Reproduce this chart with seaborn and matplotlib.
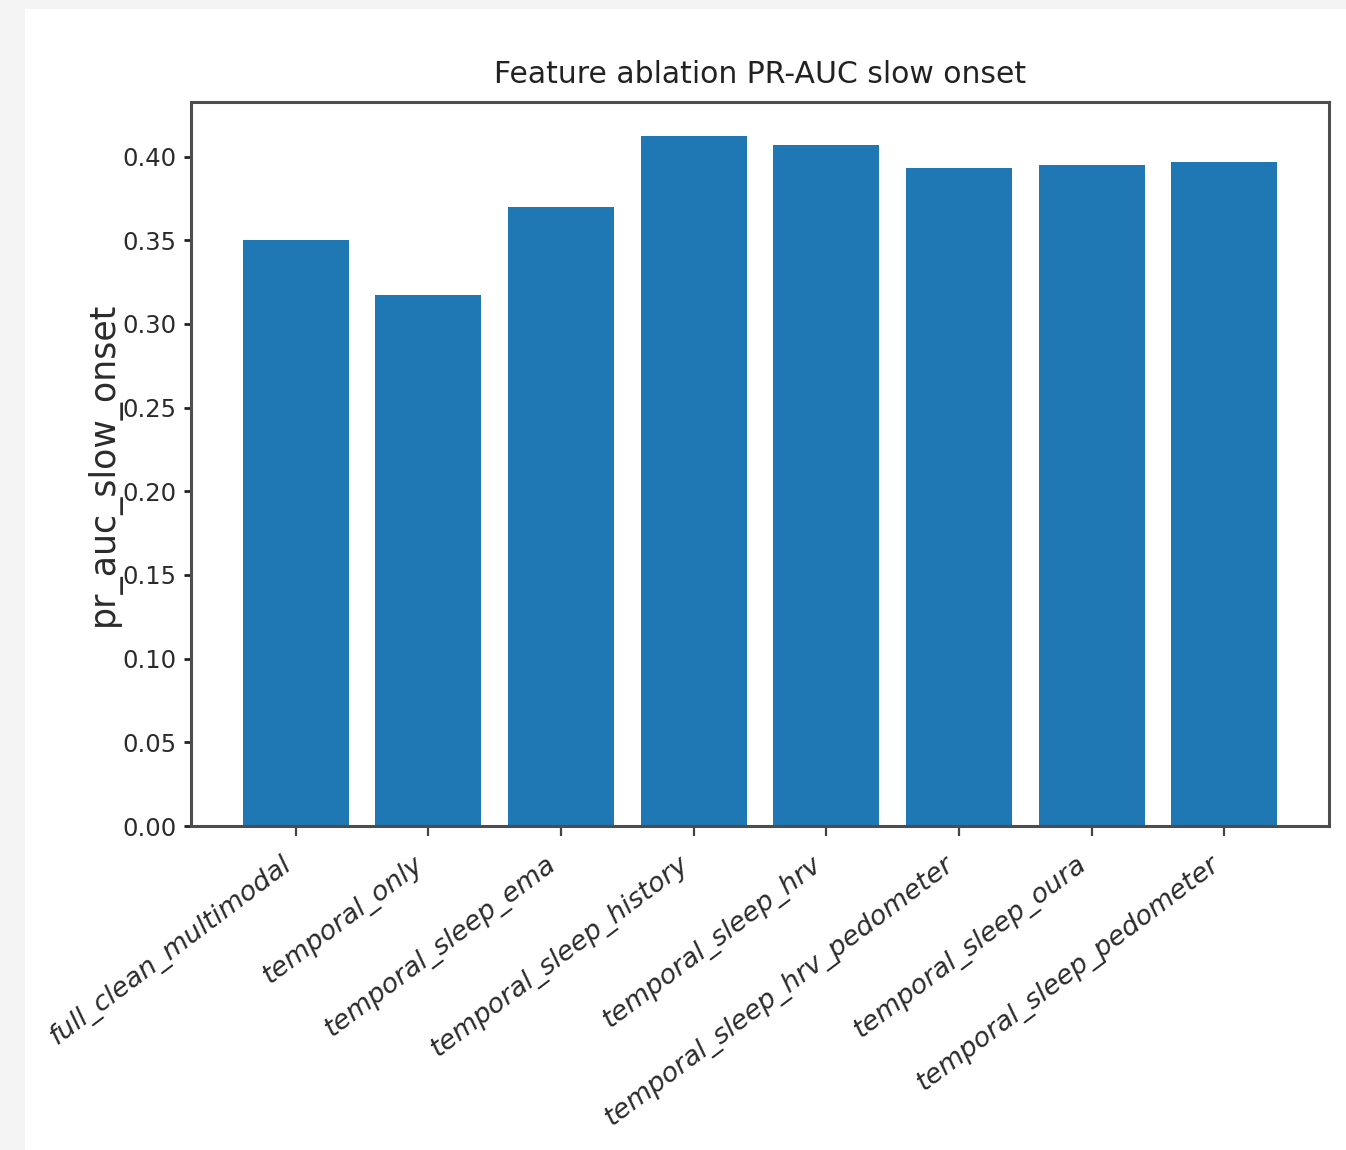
import matplotlib
matplotlib.use("Agg")
import matplotlib.pyplot as plt
from matplotlib.patches import Rectangle
from matplotlib.ticker import FormatStrFormatter
import pandas as pd
import seaborn as sns

# Feature-set configurations and their PR-AUC for slow onset
configs = [
    "full_clean_multimodal",
    "temporal_only",
    "temporal_sleep_ema",
    "temporal_sleep_history",
    "temporal_sleep_hrv",
    "temporal_sleep_hrv_pedometer",
    "temporal_sleep_oura",
    "temporal_sleep_pedometer",
]
pr_auc_slow_onset = [0.350, 0.317, 0.370, 0.412, 0.407, 0.393, 0.395, 0.397]
y_ticks = [0.00, 0.05, 0.10, 0.15, 0.20, 0.25, 0.30, 0.35, 0.40]

chart_title = "Feature ablation PR-AUC slow onset"
y_label = "pr_auc_slow_onset"

df = pd.DataFrame({"config": configs, "pr_auc_slow_onset": pr_auc_slow_onset})

sns.set_style("ticks")
plt.rcParams["font.family"] = ["DejaVu Sans"]

W, H = 1346, 1150
fig = plt.figure(figsize=(W / 100, H / 100), dpi=100, facecolor="#f4f4f4")
fig.patches.append(
    Rectangle((25 / W, 0), 1 - 25 / W, 1 - 9 / H, transform=fig.transFigure,
              facecolor="white", edgecolor="none", zorder=-1)
)

ax = fig.add_axes([191 / W, 1 - 826 / H, (1329 - 191) / W, (826 - 102) / H])
ax.set_facecolor("white")

sns.barplot(data=df, x="config", y="pr_auc_slow_onset", color="#1f77b4",
            saturation=1, width=0.8, linewidth=0, ax=ax)

n = len(configs)
pad = 0.05 * (n - 1 + 0.8)
ax.set_xlim(-0.4 - pad, n - 1 + 0.4 + pad)
ax.set_ylim(0, max(pr_auc_slow_onset) * 1.05)
ax.set_yticks(y_ticks)
ax.yaxis.set_major_formatter(FormatStrFormatter("%.2f"))

ax.set_xticks(range(n))
ax.set_xticklabels(configs, rotation=37, ha="right", style="italic",
                   fontsize=19.5, color="#2b2b2b")

for side in ["left", "right", "top", "bottom"]:
    ax.spines[side].set_visible(True)
    ax.spines[side].set_color("#4d4d4d")
    ax.spines[side].set_linewidth(2.2)

ax.tick_params(axis="y", length=5, width=2, color="#222222", pad=5.5,
               labelsize=17.5, labelcolor="#2b2b2b")
ax.tick_params(axis="x", length=7.5, width=1.6, color="#444444", pad=11)

ax.set_xlabel("")
ax.set_ylabel(y_label, fontsize=25, color="#2b2b2b")
ax.yaxis.set_label_coords(-0.062, 0.5)

ax.set_title(chart_title, fontsize=21.5, color="#222222", pad=13.7)

fig.savefig("out.png", dpi=100, facecolor=fig.get_facecolor())
